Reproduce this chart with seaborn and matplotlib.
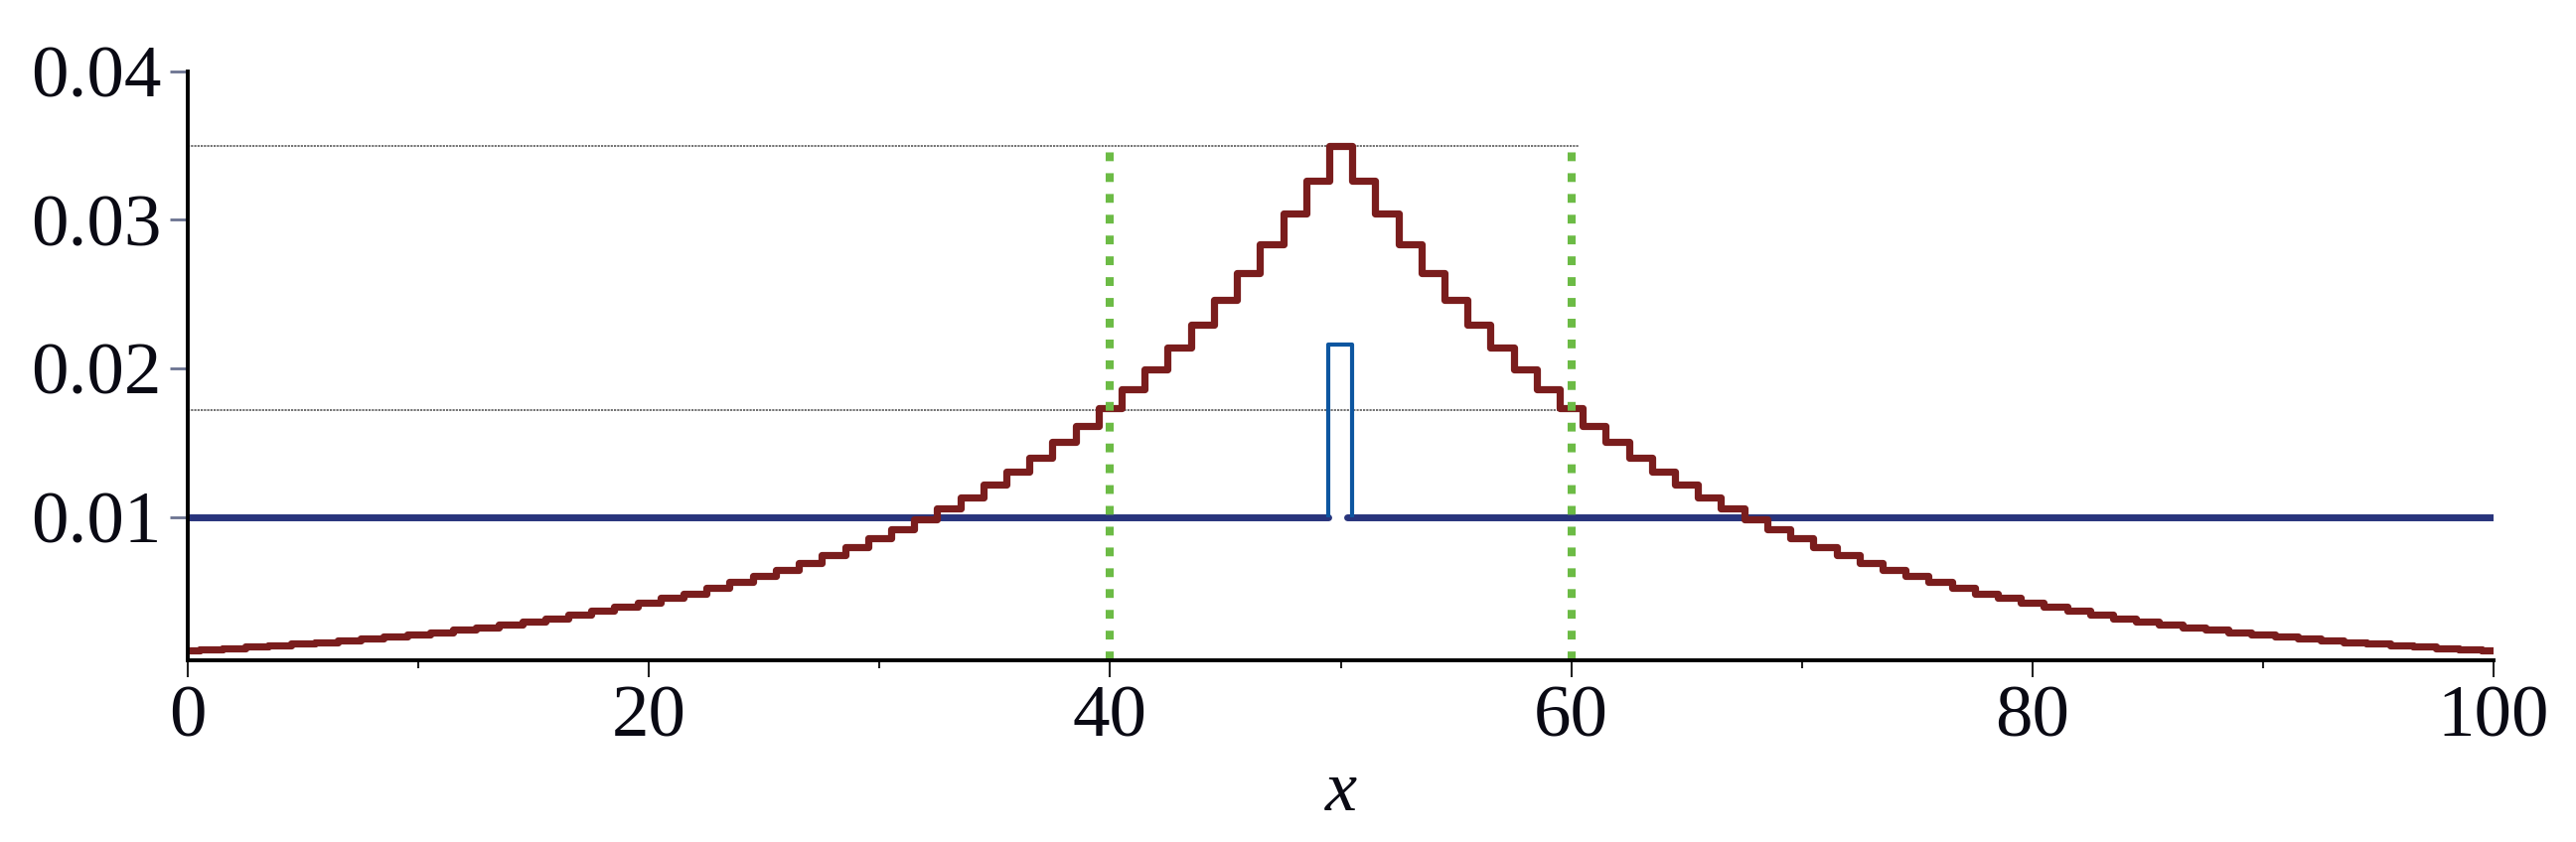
import matplotlib
matplotlib.use("Agg")
import matplotlib.pyplot as plt
from matplotlib.ticker import FixedLocator
import seaborn as sns
import pandas as pd

# ---- data ----
k_values = list(range(101))
red_values = [
    0.00103, 0.00111, 0.00119, 0.00128, 0.00137, 0.00147, 0.00158, 0.00169, 0.00182, 0.00195,
    0.00209, 0.00225, 0.00241, 0.00258, 0.00277, 0.00298, 0.00319, 0.00343, 0.00368, 0.00394,
    0.00423, 0.00454, 0.00487, 0.00523, 0.00561, 0.00602, 0.00646, 0.00693, 0.00743, 0.00798,
    0.00856, 0.00918, 0.00985, 0.01057, 0.01134, 0.01217, 0.01306, 0.01401, 0.01503, 0.01613,
    0.01731, 0.01857, 0.01992, 0.02138, 0.02294, 0.02461, 0.02641, 0.02833, 0.03040, 0.03262,
    0.03500,
    0.03262, 0.03040, 0.02833, 0.02641, 0.02461, 0.02294, 0.02138, 0.01992, 0.01857, 0.01731,
    0.01613, 0.01503, 0.01401, 0.01306, 0.01217, 0.01134, 0.01057, 0.00985, 0.00918, 0.00856,
    0.00798, 0.00743, 0.00693, 0.00646, 0.00602, 0.00561, 0.00523, 0.00487, 0.00454, 0.00423,
    0.00394, 0.00368, 0.00343, 0.00319, 0.00298, 0.00277, 0.00258, 0.00241, 0.00225, 0.00209,
    0.00195, 0.00182, 0.00169, 0.00158, 0.00147, 0.00137, 0.00128, 0.00119, 0.00111, 0.00103,
]
uniform_level = 0.01
base_left_x = [0, 49.45]
base_right_x = [50.3, 100]
spike_x = [49.45, 49.45, 50.5, 50.5]
spike_y = [0.01, 0.0216, 0.0216, 0.01]
ref_levels = [0.035, 0.01718]
ref_line_x = [0, 60.3]
vline_x = [40, 60]
vline_top = 0.035
xticks = [0, 20, 40, 60, 80, 100]
xminor = [10, 30, 50, 70, 90]
yticks = [0.01, 0.02, 0.03, 0.04]
ytick_labels = ["0.01", "0.02", "0.03", "0.04"]
x_label = "x"

sns.set_style("white")
plt.rcParams["font.family"] = ["Liberation Serif", "DejaVu Serif"]
plt.rcParams["text.color"] = "#0a0a14"
plt.rcParams["xtick.labelcolor"] = "#0a0a14"
plt.rcParams["ytick.labelcolor"] = "#0a0a14"
plt.rcParams["axes.labelcolor"] = "#0a0a14"

fig = plt.figure(figsize=(25.93, 8.48), dpi=100)
ax = fig.add_axes([0.0729, 0.2158, 0.968 - 0.0729, 0.9154 - 0.2158])

ymin, ymax = 0.00036, 0.04

# thin reference lines
for lvl in ref_levels:
    sns.lineplot(x=ref_line_x, y=[lvl, lvl], ax=ax, color="#666666", lw=1.3,
                 linestyle=(0, (1.2, 0.6)), zorder=1)

# blue uniform baseline
sns.lineplot(x=base_left_x, y=[uniform_level] * 2, ax=ax, color="#28347c", lw=5.0, zorder=2)
sns.lineplot(x=base_right_x, y=[uniform_level] * 2, ax=ax, color="#28347c", lw=5.0, zorder=2)
# blue spike
ax.plot(spike_x, spike_y, color="#0d56a0", lw=3.0, zorder=3, solid_capstyle="butt")

# red step distribution
df = pd.DataFrame({"k": k_values, "p": red_values})
sns.lineplot(data=df, x="k", y="p", ax=ax, color="#7a1d1d", lw=5.2,
             drawstyle="steps-mid", zorder=4)

# green dotted verticals
for xv in vline_x:
    ax.plot([xv, xv], [ymin, vline_top], color="#6cbb45", lw=5.8,
            linestyle=(0, (1.1, 1.5)), zorder=5, solid_capstyle="butt")

ax.set_xlim(0, 100)
ax.set_ylim(ymin, ymax)

for s in ["top", "right"]:
    ax.spines[s].set_visible(False)
for s in ["left", "bottom"]:
    ax.spines[s].set_color("black")
    ax.spines[s].set_linewidth(2.8)
    ax.spines[s].set_zorder(6)

ax.set_xticks(xticks)
ax.set_xticklabels([str(t) for t in xticks])
ax.xaxis.set_minor_locator(FixedLocator(xminor))
ax.set_yticks(yticks)
ax.set_yticklabels(ytick_labels)

ax.tick_params(axis="x", which="major", direction="out", length=12, width=1.5,
               color="#222222", labelsize=54, pad=6, bottom=True)
ax.tick_params(axis="x", which="minor", direction="out", length=6, width=1.5,
               color="#222222", bottom=True)
ax.tick_params(axis="y", which="major", direction="out", length=13, width=2,
               color="#6b7391", labelsize=54, pad=6, left=True)

ax.set_xlabel(x_label, fontsize=52, fontstyle="italic", labelpad=6)
ax.set_ylabel("")
ax.grid(False)

fig.savefig("out.png", dpi=100)
